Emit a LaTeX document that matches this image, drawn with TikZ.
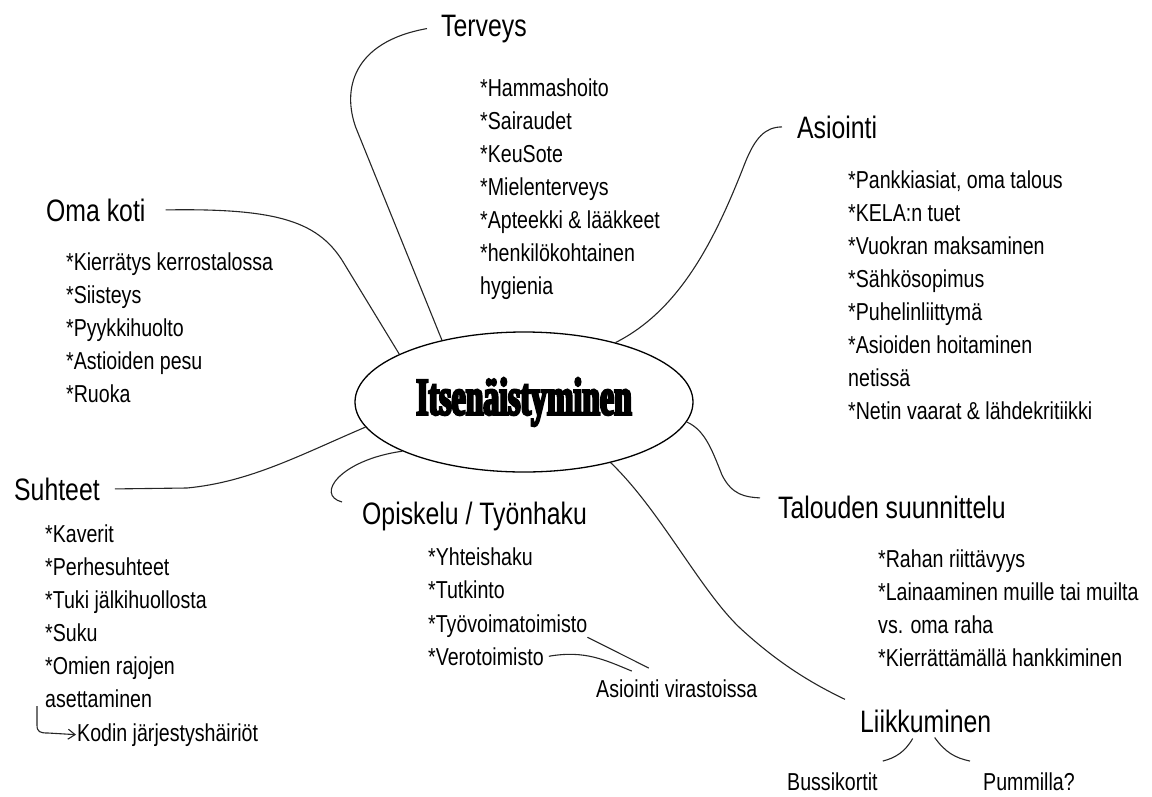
\documentclass[tikz,border=0pt]{standalone}
\usepackage{fontspec}
\setmainfont[FakeStretch=0.8]{Liberation Sans}
\newfontfamily\titlefont[FakeStretch=0.6,FakeBold=4.5]{Liberation Serif Bold}
\usetikzlibrary{shapes.geometric,arrows.meta}
\begin{document}
\begin{tikzpicture}[x=1pt,y=-1pt,
  head/.style={anchor=base west,inner sep=0,font=\fontsize{31}{36}\selectfont},
  items/.style={anchor=north west,inner sep=0,align=left,font=\fontsize{24.5}{33}\selectfont},
  small/.style={anchor=base west,inner sep=0,font=\fontsize{24.5}{33}\selectfont},
  line/.style={draw=black!85,line width=1.1pt}]
\useasboundingbox (0,0) rectangle (1152,796);
\node[draw,ellipse,line width=1.3pt,minimum width=338pt,minimum height=140pt,inner sep=0] (itse) at (524,402) {\titlefont\fontsize{53}{55}\selectfont Itsenäistyminen};
\node[head] (terv) at (441,36) {Terveys};
\node[head] (asio) at (797,138) {Asiointi};
\node[head] (koti) at (46,221) {Oma koti};
\node[head] (suht) at (14,500) {Suhteet};
\node[head] (opis) at (362,524) {Opiskelu / Työnhaku};
\node[head] (talo) at (778,518) {Talouden suunnittelu};
\node[head] (liik) at (860,732) {Liikkuminen};
\node[items] (tervlist) at (480,79) {*Hammashoito\\*Sairaudet\\*KeuSote\\*Mielenterveys\\*Apteekki \& lääkkeet\\*henkilökohtainen\\hygienia};
\node[items] (kotilist) at (66,253) {*Kierrätys kerrostalossa\\*Siisteys\\*Pyykkihuolto\\*Astioiden pesu\\*Ruoka};
\node[items] (asiolist) at (848,171) {*Pankkiasiat, oma talous\\*KELA:n tuet\\*Vuokran maksaminen\\*Sähkösopimus\\*Puhelinliittymä\\*Asioiden hoitaminen\\netissä\\*Netin vaarat \& lähdekritiikki};
\node[items] (suhtlist) at (45,525) {*Kaverit\\*Perhesuhteet\\*Tuki jälkihuollosta\\*Suku\\*Omien rajojen\\asettaminen};
\node[small] (kodi) at (77,741) {Kodin järjestyshäiriöt};
\node[items] (opislist) at (428,548) {*Yhteishaku\\*Tutkinto};
\node[small] (tyo) at (428,632) {*Työvoimatoimisto};
\node[small] (vero) at (428,665) {*Verotoimisto};
\node[small] (vira) at (596,697) {Asiointi virastoissa};
\node[items] (talolist) at (878,550) {*Rahan riittävyys\\*Lainaaminen muille tai muilta\\vs. oma raha\\*Kierrättämällä hankkiminen};
\node[small] (buss) at (787,790) {Bussikortit};
\node[small] (pumm) at (983,790) {Pummilla?};
\coordinate (kstart) at (37,706);
\draw[line] ([xshift=-14pt]terv.west) .. controls (352,42) and (342,90) .. (356,128) -- (itse.143);
\draw[line] ([xshift=20pt]koti.east) .. controls (280,208) and (320,222) .. (345,265) -- (itse.159);
\draw[line] ([xshift=-15pt]asio.west) .. controls (765,127) and (755,138) .. (745,163) .. controls (715,240) and (680,310) .. (itse.33);
\draw[line] (itse.-7) .. controls (705,430) and (712,450) .. (722,475) .. controls (732,495) and (745,497) .. ([xshift=-18pt,yshift=9pt]talo.west);
\draw[line] (itse.-35) .. controls (660,510) and (700,590) .. (740,628) .. controls (780,665) and (815,685) .. ([xshift=-15pt,yshift=10pt]liik.north west);
\draw[line] (itse.202) .. controls (340,460) and (315,495) .. ([xshift=-20pt,yshift=14pt]opis.west);
\draw[line] ([xshift=15pt]suht.east) -- (187,488) .. controls (250,482) and (300,455) .. (itse.189);
\draw[line] (tyo.south east) -- ([xshift=-28pt,yshift=11pt]vira.north);
\draw[line] ([xshift=5pt]vero.east) .. controls (585,650) and (605,660) .. ([xshift=-45pt,yshift=8pt]vira.north);
\draw[line] ([xshift=-13pt,yshift=-6pt]liik.south) .. controls (905,752) and (895,758) .. ([xshift=5pt,yshift=11pt]buss.north east);
\draw[line] ([xshift=9pt,yshift=-5pt]liik.south) .. controls (945,752) and (955,758) .. ([xshift=-13pt,yshift=11pt]pumm.north west);
\draw[line,-{Straight Barb[length=7pt,width=10pt]}] (kstart) -- (37,725) .. controls (37,732) and (40,733) .. (48,733) -- ([xshift=-1pt]kodi.west);
%\draw[line] (itse.south) -- (vira.north);
\end{tikzpicture}
\end{document}
